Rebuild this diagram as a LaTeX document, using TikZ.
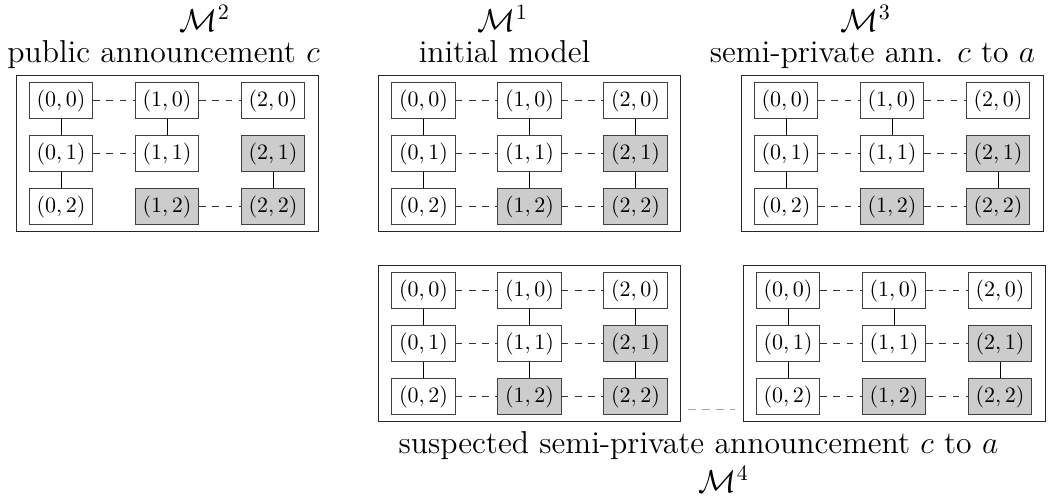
\documentclass[tikz,border=0pt]{standalone}
\usetikzlibrary{fit}
\tikzset{
  x=0.4545pt, y=-0.4545pt,
  cell0/.style={draw=black!75, thin, fill=white, inner sep=.3333em},
  cell1/.style={cell0, fill=black!20},
  hedge/.style={draw=black!80, thin, dashed},
  vedge/.style={draw=black, thin},
  modelbox/.style={draw=black!85, thin, inner xsep=5.8pt, inner ysep=2.8pt},
  title/.style={font=\Large, inner sep=0pt, anchor=base},
  link/.style={draw=black!35, thin, dash pattern=on 3.6pt off 2.8pt},
}
\newcommand\mgrid[3]{%
  \foreach \i in {0,1,2}{%
    \foreach \j in {0,1,2}{%
      \pgfmathtruncatemacro\sh{(\i+\j)>2}%
      \node[cell\sh] (#1\i\j) at ({#2+106*\i},{#3+53*\j}) {$(\i,\j)$};
    }%
  }%
}
\begin{document}
\begin{tikzpicture}
\useasboundingbox (0,0) rectangle (1048,502);

% M2: public announcement
\mgrid{b}{61}{100.5}
\draw[hedge] (b00) -- (b10);
\draw[hedge] (b10) -- (b20);
\draw[hedge] (b01) -- (b11);
\draw[hedge] (b12) -- (b22);
\draw[vedge] (b00) -- (b01);
\draw[vedge] (b01) -- (b02);
\draw[vedge] (b10) -- (b11);
\draw[vedge] (b21) -- (b22);
\node[modelbox, fit=(b00)(b22)] (B) {};

% M1: initial model
\mgrid{a}{423.5}{100.5}
\foreach \j in {0,1,2}{\draw[hedge] (a0\j) -- (a1\j); \draw[hedge] (a1\j) -- (a2\j);}
\foreach \i in {0,1,2}{\draw[vedge] (a\i0) -- (a\i1); \draw[vedge] (a\i1) -- (a\i2);}
\node[modelbox, fit=(a00)(a22)] (A) {};

% M3: semi-private
\mgrid{c}{786}{100.5}
\foreach \j in {0,1,2}{\draw[hedge] (c0\j) -- (c1\j); \draw[hedge] (c1\j) -- (c2\j);}
\draw[vedge] (c00) -- (c01);
\draw[vedge] (c01) -- (c02);
\draw[vedge] (c10) -- (c11);
\draw[vedge] (c21) -- (c22);
\node[modelbox, fit=(c00)(c22)] (C) {};

% M4 left
\mgrid{d}{423.5}{290.5}
\foreach \j in {0,1,2}{\draw[hedge] (d0\j) -- (d1\j); \draw[hedge] (d1\j) -- (d2\j);}
\foreach \i in {0,1,2}{\draw[vedge] (d\i0) -- (d\i1); \draw[vedge] (d\i1) -- (d\i2);}
\node[modelbox, fit=(d00)(d22)] (D) {};

% M4 right
\mgrid{e}{788}{290.5}
\foreach \j in {0,1,2}{\draw[hedge] (e0\j) -- (e1\j); \draw[hedge] (e1\j) -- (e2\j);}
\draw[vedge] (e00) -- (e01);
\draw[vedge] (e01) -- (e02);
\draw[vedge] (e10) -- (e11);
\draw[vedge] (e21) -- (e22);
\node[modelbox, fit=(e00)(e22)] (E) {};

\draw[link] ([xshift=3.2pt, yshift=5.5pt]D.south east) -- ([xshift=-3.6pt, yshift=5.5pt]E.south west);

% titles
\node[title] (m2) at (205,31) {$\mathcal{M}^2$};
\node[title] (t2) at (163.5,62) {public announcement $c$};
\node[title] (m1) at (503,31) {$\mathcal{M}^1$};
\node[title] (t1) at (504.5,62) {initial model};
\node[title] (m3) at (866,31) {$\mathcal{M}^3$};
\node[title] (t3) at (872.5,62) {semi-private ann. $c$ to $a$};
\node[title] (t4) at (698.5,453) {suspected semi-private announcement $c$ to $a$};
\node[title] (m4) at (724,492) {$\mathcal{M}^4$};
\end{tikzpicture}
\end{document}
